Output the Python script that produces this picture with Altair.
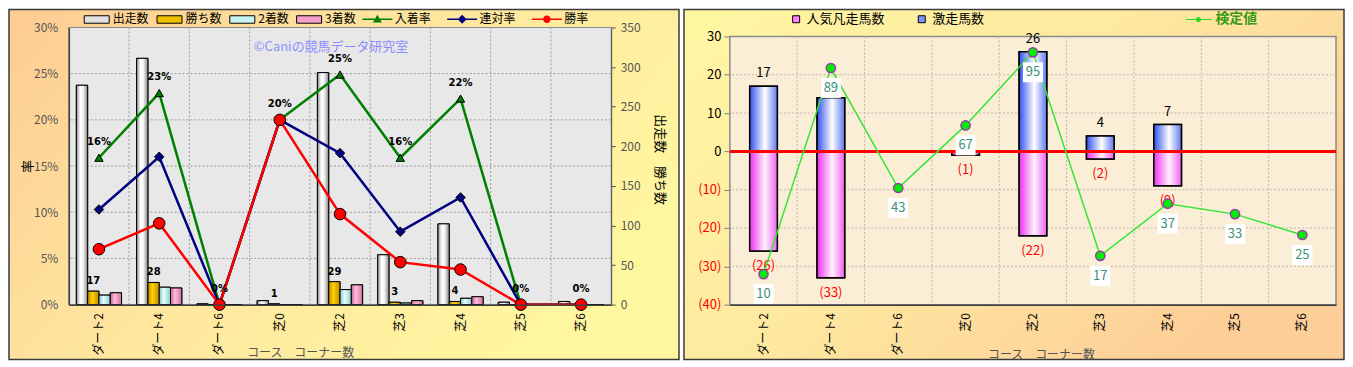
import altair as alt
import pandas as pd

FONT = "Noto Sans CJK JP"

cats = ["ダート2", "ダート4", "ダート6", "芝0", "芝2", "芝3", "芝4", "芝5", "芝6"]

# ---- left chart data ----
bar_series = ["出走数", "勝ち数", "2着数", "3着数"]
starts = [277, 311, 1, 5, 293, 63, 102, 3, 4]
wins = [17, 28, 0, 1, 29, 3, 4, 0, 0]
seconds = [12, 22, 0, 0, 19, 2, 8, 0, 0]
thirds = [15, 21, 0, 0, 25, 5, 10, 0, 0]

line_series = ["入着率", "連対率", "勝率"]
place_rate = [0.159, 0.229, 0.0, 0.200, 0.249, 0.159, 0.223, 0.0, 0.0]
quinella_rate = [0.103, 0.160, 0.0, 0.200, 0.164, 0.079, 0.116, 0.0, 0.0]
win_rate = [0.060, 0.088, 0.0, 0.200, 0.098, 0.046, 0.038, 0.0, 0.0]

rate_ticks = [0, 0.05, 0.10, 0.15, 0.20, 0.25, 0.30]
count_ticks = [0, 50, 100, 150, 200, 250, 300, 350]

# ---- right chart data ----
right_series = ["人気凡走馬数", "激走馬数"]
flop = [-26, -33, 0, -1, -22, -2, -9, 0, 0]
upset = [17, 14, 0, 0, 26, 4, 7, 0, 0]
test_name = "検定値"
test_val = [10, 89, 43, 67, 95, 17, 37, 33, 25]
right_ticks = [-40, -30, -20, -10, 0, 10, 20, 30]

one = pd.DataFrame({"k": [0]})


def grad(stops, x2=1, y2=0):
    return alt.LinearGradient(
        gradient="linear", x1=0, y1=0, x2=x2, y2=y2,
        stops=[alt.GradientStop(offset=o, color=c) for o, c in stops])


def xenc(title_x, title_y, **kw):
    return alt.X(
        "cat:N",
        scale=alt.Scale(domain=cats, paddingInner=0, paddingOuter=0),
        axis=alt.Axis(title="コース　コーナー数", titleX=title_x, titleY=title_y,
                      titleAlign="center", titleBaseline="middle", titleFont=FONT,
                      titleFontSize=12, titleFontWeight="normal", titleColor="#555555",
                      labelAngle=270, labelFontSize=12, labelColor="#000000", labelFont=FONT,
                      labelPadding=8, ticks=False, domainColor="#404040", domainWidth=1.5,
                      grid=False, zindex=1),
        **kw)


# ======================= LEFT CHART =======================
W1, H1 = 544, 278


def XL(**kw):
    return xenc(232, 48, **kw)


def yrate(field="value"):
    return alt.Y(f"{field}:Q", scale=alt.Scale(domain=[0, 0.3], nice=False),
                 axis=alt.Axis(orient="left", values=rate_ticks, format=".0%", title="率",
                               titleX=-41, titleY=139, titleAlign="center", titleBaseline="middle",
                               titleAngle=270, titleFontSize=13, titleColor="#000000",
                               titleFontWeight="normal", titleFont=FONT,
                               ticks=False, labelPadding=11, labelColor="#555555",
                               labelFontSize=12, labelFont=FONT, domainColor="#404040",
                               domainWidth=1.5, grid=False, zindex=1))


def ycount(field="value"):
    return alt.Y(f"{field}:Q", scale=alt.Scale(domain=[0, 350], nice=False),
                 axis=alt.Axis(orient="right", values=count_ticks, title="出走数　勝ち数",
                               titleX=48, titleY=132, titleAlign="center", titleBaseline="middle",
                               titleAngle=90, titleFontSize=13, titleColor="#000000",
                               titleFontWeight="normal", titleFont=FONT,
                               tickSize=4, tickColor="#505050", labelPadding=5,
                               labelColor="#555555", labelFontSize=12, labelFont=FONT,
                               domainColor="#505050", grid=False, zindex=1))


bg_l = alt.Chart(one).mark_rect(
    fill=grad([(0, "#fdcb92"), (0.45, "#fee49e"), (1, "#fff6a0")], x2=1, y2=0.5),
    stroke="#3a3a3a", strokeWidth=1.5).encode(
    x=alt.value(-60), x2=alt.value(W1 + 68), y=alt.value(-18), y2=alt.value(H1 + 55))

plot_l = alt.Chart(one).mark_rect(fill="#e8e8e8", stroke="#8a8a8a", strokeWidth=1).encode(
    x=alt.value(0), x2=alt.value(W1), y=alt.value(0), y2=alt.value(H1))

hgrid_l = alt.Chart(pd.DataFrame({"t": rate_ticks[1:-1]})).mark_rule(
    color="#9a9a9a", strokeDash=[2, 2], strokeWidth=1).encode(
    y=alt.Y("t:Q", scale=alt.Scale(domain=[0, 0.3], nice=False), axis=None))

vgrid_l = alt.Chart(pd.DataFrame({"cat": cats[1:]})).mark_rule(
    color="#9a9a9a", strokeDash=[2, 2], strokeWidth=1).encode(x=XL(bandPosition=0))

watermark = alt.Chart(one).mark_text(
    text="©Caniの競馬データ研究室", color="#8c8cff", fontSize=13, font=FONT).encode(
    x=alt.value(263), y=alt.value(20))

bars_df = pd.DataFrame([
    {"cat": c, "series": s, "value": v}
    for s, vals in zip(bar_series, [starts, wins, seconds, thirds])
    for c, v in zip(cats, vals)])

xo = alt.XOffset("series:N", scale=alt.Scale(domain=bar_series, paddingInner=0, paddingOuter=0.667))

leg_bars = alt.Legend(
    title=None, orient="none", legendX=20, legendY=-16, direction="horizontal",
    symbolType="M-1.67,-0.5H1.67V0.5H-1.67Z", symbolSize=225,
    symbolStrokeColor="#000000", symbolStrokeWidth=1, symbolOpacity=1,
    labelFont=FONT, labelFontSize=12, labelColor="#000000", labelOffset=8, columnPadding=5)

bar_legend_layer = alt.Chart(bars_df).mark_bar(stroke="#000000", strokeWidth=1).encode(
    x=XL(), xOffset=xo, y=ycount(),
    fill=alt.Fill("series:N", scale=alt.Scale(domain=bar_series,
                                              range=["#e0e0e0", "#f0c000", "#c8f4f4", "#f4a0c8"]),
                  legend=leg_bars))

bar_grads = {
    "出走数": grad([(0, "#8e8e8e"), (0.35, "#ffffff"), (0.6, "#f2f2f2"), (1, "#858585")]),
    "勝ち数": grad([(0, "#b88400"), (0.4, "#ffd200"), (1, "#c08c00")]),
    "2着数": grad([(0, "#80c4c4"), (0.4, "#eaffff"), (1, "#8acccc")]),
    "3着数": grad([(0, "#cc6496"), (0.4, "#ffbcdc"), (1, "#d0709e")]),
}
bar_overlays = [
    alt.Chart(bars_df).transform_filter(alt.datum.series == s).mark_bar(
        fill=bar_grads[s], stroke="#000000", strokeWidth=1).encode(x=XL(), xOffset=xo, y=ycount())
    for s in bar_series]

wins_df = pd.DataFrame({"cat": cats, "value": wins})
win_labels = alt.Chart(wins_df).transform_filter(alt.datum.value > 0).mark_text(
    dx=-5.6, dy=-10, fontSize=10, fontWeight="bold", font="DejaVu Sans", color="#000000").encode(
    x=XL(), y=ycount(), text="value:Q")

bars_group = alt.layer(bar_legend_layer, *bar_overlays, win_labels)

# lines
line_specs = [
    ("入着率", place_rate, "#008000", "triangle-up", 70),
    ("連対率", quinella_rate, "#000080", "diamond", 90),
    ("勝率", win_rate, "#ff0000", "circle", 135),
]
line_layers = []
for name, vals, col, shp, sz in line_specs:
    d = pd.DataFrame({"cat": cats, "value": vals})
    line_layers.append(alt.Chart(d).mark_line(color=col, strokeWidth=2.5).encode(x=XL(), y=yrate()))
    line_layers.append(alt.Chart(d).mark_point(
        shape=shp, filled=True, fill=col, stroke="#000000", strokeWidth=1, size=sz, opacity=1).encode(
        x=XL(), y=yrate()))

rate_labels = alt.Chart(pd.DataFrame({"cat": cats, "value": place_rate})).mark_text(
    dy=-16, fontSize=10, fontWeight="bold", font="DejaVu Sans", color="#000000").encode(
    x=XL(), y=yrate(), text=alt.Text("value:Q", format=".0%"))

line_paths = [
    "M-2,-0.09H2V0.09H-2Z M0,-0.6L0.6,0.45H-0.6Z",
    "M-2,-0.09H2V0.09H-2Z M0,-0.6L0.6,0L0,0.6L-0.6,0Z",
    "M-2,-0.09H2V0.09H-2Z M0.5,0A0.5,0.5,0,1,1,-0.5,0A0.5,0.5,0,1,1,0.5,0Z",
]
leg_lines = alt.Legend(
    title=None, orient="none", legendX=302, legendY=-16, direction="horizontal",
    symbolSize=225, symbolStrokeWidth=0, symbolOpacity=1,
    labelFont=FONT, labelFontSize=12, labelColor="#000000", labelOffset=10, columnPadding=15)
line_leg_df = pd.DataFrame({"cat": cats[:3], "series": line_series, "value": [-1, -1, -1]})
line_legend_layer = alt.Chart(line_leg_df).mark_point(filled=True, clip=True).encode(
    x=XL(), y=yrate(),
    color=alt.Color("series:N", scale=alt.Scale(domain=line_series,
                                                range=["#008000", "#000080", "#ff0000"]),
                    legend=leg_lines),
    shape=alt.Shape("series:N", scale=alt.Scale(domain=line_series, range=line_paths),
                    legend=leg_lines))

lines_group = alt.layer(*line_layers, rate_labels, line_legend_layer)

left = alt.layer(bg_l, plot_l, hgrid_l, vgrid_l, watermark, bars_group, lines_group).resolve_scale(
    y="independent").properties(width=W1, height=H1)

# ======================= RIGHT CHART =======================
# view spans the same height as the left one; the framed plot starts TOP2 px lower
W2, H2 = 608, 278
TOP2 = 9
R_DOMAIN = [-40, 30 + TOP2 * 70 / 269]
T_DOMAIN = [-1.7, 101.1 + TOP2 * 102.8 / 269]


def XR(**kw):
    return xenc(312, 50, **kw)


def yright(field="value"):
    return alt.Y(f"{field}:Q", scale=alt.Scale(domain=R_DOMAIN, nice=False, zero=False),
                 axis=alt.Axis(orient="left", values=right_ticks, title=None,
                               labelExpr="datum.value < 0 ? '(' + abs(datum.value) + ')' : datum.label",
                               labelColor={"condition": {"test": "datum.value < 0", "value": "#ff0000"},
                                           "value": "#000000"},
                               labelFontSize=13, labelFont=FONT, tickSize=6, tickColor="#808080",
                               labelPadding=3, domain=False, grid=False, zindex=1))


def ytest(field="value"):
    return alt.Y(f"{field}:Q", scale=alt.Scale(domain=T_DOMAIN, nice=False, zero=False), axis=None)


bg_r = alt.Chart(one).mark_rect(
    fill=grad([(0, "#fff7a2"), (0.5, "#fee9a0"), (1, "#fdce98")], x2=1, y2=0.6),
    stroke="#3a3a3a", strokeWidth=1.5).encode(
    x=alt.value(-46), x2=alt.value(W2 + 8), y=alt.value(-18), y2=alt.value(H2 + 55))

plot_r = alt.Chart(one).mark_rect(fill="#fbeed6", stroke="#8a8a8a", strokeWidth=1.5).encode(
    x=alt.value(0), x2=alt.value(W2), y=alt.value(TOP2), y2=alt.value(H2))

vgrid_r = alt.Chart(pd.DataFrame({"cat": cats[1:]})).mark_rule(
    color="#bdb6aa", strokeDash=[2, 2], strokeWidth=1).encode(
    x=XR(bandPosition=0), y=alt.value(TOP2), y2=alt.value(H2))

hgrid_r = alt.Chart(pd.DataFrame({"value": [-30, -20, -10, 10, 20]})).mark_rule(
    color="#bdb6aa", strokeDash=[2, 2], strokeWidth=1).encode(y=yright())

rb_df = pd.DataFrame([
    {"cat": c, "series": s, "value": v}
    for s, vals in zip(right_series, [flop, upset])
    for c, v in zip(cats, vals)])

leg_rbars = alt.Legend(
    title=None, orient="none", legendX=60, legendY=-15, direction="horizontal",
    symbolType="square", symbolSize=49, symbolStrokeColor="#000000", symbolStrokeWidth=1,
    symbolOpacity=1, labelFont=FONT, labelFontSize=13, labelColor="#000000",
    labelOffset=4, columnPadding=30)

rbar_legend_layer = alt.Chart(rb_df).mark_bar(
    width=alt.RelativeBandSize(0.41), stroke="#000000", strokeWidth=1.5).encode(
    x=XR(), y=yright(),
    fill=alt.Fill("series:N", scale=alt.Scale(domain=right_series, range=["#ff80ff", "#8090ff"]),
                  legend=leg_rbars))

rbar_grads = {
    "人気凡走馬数": grad([(0, "#ee30ee"), (0.55, "#fff2ff"), (1, "#f060f0")]),
    "激走馬数": grad([(0, "#3050ee"), (0.55, "#ffffff"), (1, "#6078f0")]),
}
rbar_overlays = [
    alt.Chart(rb_df).transform_filter(alt.datum.series == s).mark_bar(
        width=alt.RelativeBandSize(0.41), fill=rbar_grads[s], stroke="#000000", strokeWidth=1.5).encode(
        x=XR(), y=yright())
    for s in right_series]

zero_line = alt.Chart(pd.DataFrame({"value": [0]})).mark_rule(color="#ff0000", strokeWidth=3).encode(
    y=yright())

upset_labels = alt.Chart(pd.DataFrame({"cat": cats, "value": upset})).transform_filter(
    alt.datum.value > 0).mark_text(dy=-13, fontSize=13, font=FONT, color="#000000").encode(
    x=XR(), y=yright(), text="value:Q")

flop_labels = alt.Chart(pd.DataFrame({"cat": cats, "value": flop})).transform_filter(
    alt.datum.value < 0).transform_calculate(
    lbl="'(' + abs(datum.value) + ')'").mark_text(
    dy=15, fontSize=13, font=FONT, color="#ff0000").encode(
    x=XR(), y=yright(), text="lbl:N")

rbars_group = alt.layer(hgrid_r, rbar_legend_layer, *rbar_overlays, zero_line, upset_labels, flop_labels)

test_df = pd.DataFrame({"cat": cats, "value": test_val})
t_line = alt.Chart(test_df).mark_line(color="#33e633", strokeWidth=1.5).encode(x=XR(), y=ytest())
t_pts = alt.Chart(test_df).mark_point(
    shape="circle", filled=True, fill="#00ee00", stroke="#9a3aa8", strokeWidth=1.5, size=85,
    opacity=1).encode(x=XR(), y=ytest())
t_boxes = alt.Chart(test_df).mark_square(color="#ffffff", size=400, yOffset=20, opacity=1).encode(
    x=XR(), y=ytest())
t_labels = alt.Chart(test_df).mark_text(dy=20, fontSize=13, font=FONT, color="#3a8f78").encode(
    x=XR(), y=ytest(), text="value:Q")

leg_test = alt.Legend(
    title=None, orient="none", legendX=463, legendY=-15, direction="horizontal",
    symbolSize=169, symbolStrokeWidth=0, symbolOpacity=1,
    labelFont=FONT, labelFontSize=14, labelFontWeight="bold", labelColor="#3a9a1a", labelOffset=10)
t_leg_df = pd.DataFrame({"cat": [cats[0]], "s": [test_name], "value": [-50]})
t_legend_layer = alt.Chart(t_leg_df).mark_point(filled=True, clip=True).encode(
    x=XR(), y=ytest(),
    color=alt.Color("s:N", scale=alt.Scale(domain=[test_name], range=["#22dd22"]), legend=leg_test),
    shape=alt.Shape("s:N", scale=alt.Scale(
        domain=[test_name],
        range=["M-2,-0.08H2V0.08H-2Z M0.4,0A0.4,0.4,0,1,1,-0.4,0A0.4,0.4,0,1,1,0.4,0Z"]),
        legend=leg_test))

test_group = alt.layer(t_line, t_pts, t_boxes, t_labels, t_legend_layer)

right = alt.layer(bg_r, plot_r, vgrid_r, rbars_group, test_group).resolve_scale(
    y="independent").properties(width=W2, height=H2)

chart = alt.hconcat(left, right, spacing=3).resolve_scale(
    fill="independent", color="independent", shape="independent", x="independent",
    xOffset="independent").resolve_legend(
    fill="independent", color="independent", shape="independent").properties(
    padding=0, background="#ffffff").configure_view(strokeWidth=0).configure_legend(
    labelFont=FONT).configure_text(font=FONT)

chart.save("out.html", embed_options={"renderer": "svg", "actions": False})
